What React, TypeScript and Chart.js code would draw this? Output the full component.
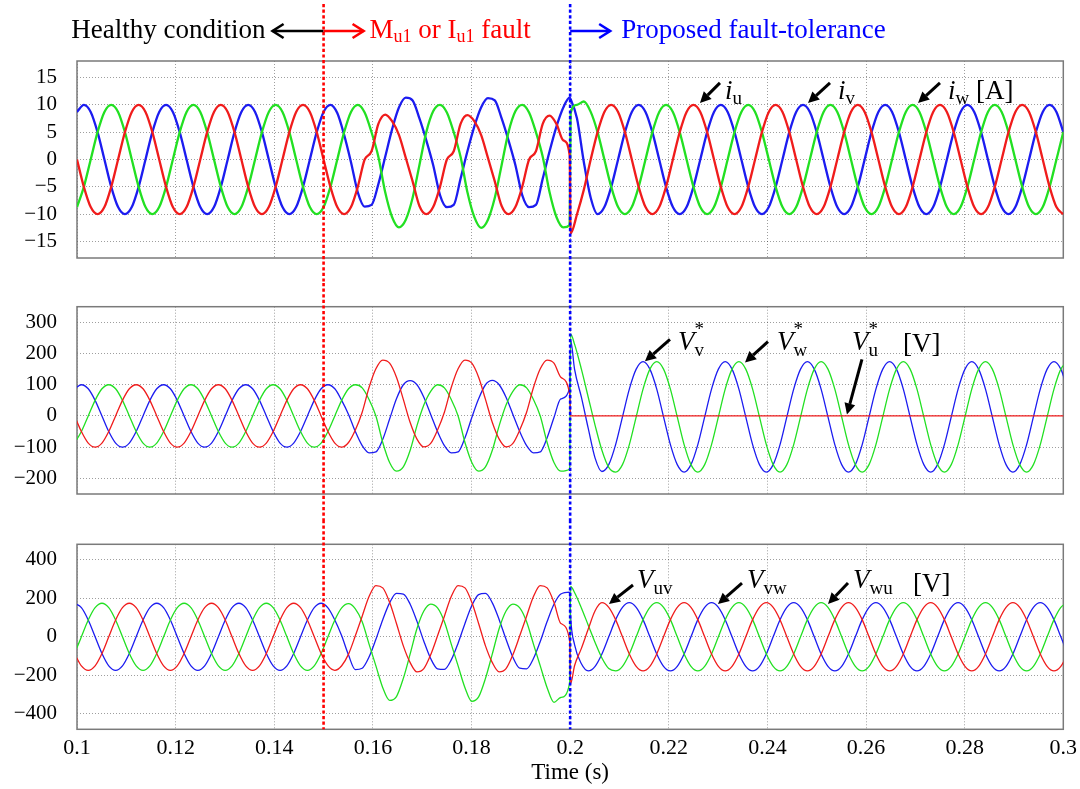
import React, { useEffect, useRef } from "react";
import { Chart, registerables } from "chart.js";

Chart.register(...registerables);

const SERIF = '"Liberation Serif", "Times New Roman", serif';
const RED = "#f01c1c";
const GREEN = "#22e022";
const BLUE = "#1c1cf0";
const GRID = "rgba(0,0,0,0.38)";

// ---------------- time samples (s) ----------------
const TIME_A = [
  0.1, 0.10139, 0.10278, 0.10417, 0.10556, 0.10694, 0.10833, 0.10972, 0.11111, 0.1125, 0.11389, 0.11528,
  0.11667, 0.11806, 0.11944, 0.12083, 0.12222, 0.12361, 0.125, 0.12639, 0.12778, 0.12917, 0.13056, 0.13194,
  0.13333, 0.13472, 0.13611, 0.1375, 0.13889, 0.14028, 0.14167, 0.14306, 0.14444, 0.14583, 0.14722, 0.14861,
  0.15, 0.15139, 0.15278, 0.15417, 0.15556, 0.15694, 0.15833, 0.15972, 0.16111, 0.1625, 0.16389, 0.16528,
  0.16667, 0.16806, 0.16944, 0.17083, 0.17222, 0.17361, 0.175, 0.17639, 0.17778, 0.17917, 0.18056, 0.18194,
  0.18333, 0.18472, 0.18611, 0.1875, 0.18889, 0.19028, 0.19167, 0.19306, 0.19444, 0.19583, 0.19722, 0.19861,
  0.1999, 0.2001,
  0.20139, 0.20278, 0.20417, 0.20556, 0.20694, 0.20833, 0.20972, 0.21111, 0.2125, 0.21389, 0.21528, 0.21667,
  0.21806, 0.21944, 0.22083, 0.22222, 0.22361, 0.225, 0.22639, 0.22778, 0.22917, 0.23056, 0.23194, 0.23333,
  0.23472, 0.23611, 0.2375, 0.23889, 0.24028, 0.24167, 0.24306, 0.24444, 0.24583, 0.24722, 0.24861, 0.25,
  0.25139, 0.25278, 0.25417, 0.25556, 0.25694, 0.25833, 0.25972, 0.26111, 0.2625, 0.26389, 0.26528, 0.26667,
  0.26806, 0.26944, 0.27083, 0.27222, 0.27361, 0.275, 0.27639, 0.27778, 0.27917, 0.28056, 0.28194, 0.28333,
  0.28472, 0.28611, 0.2875, 0.28889, 0.29028, 0.29167, 0.29306, 0.29444, 0.29583, 0.29722, 0.29861, 0.3,
];

const TIME_B = [
  0.0995, 0.10089, 0.10228, 0.10367, 0.10506, 0.10644, 0.10783, 0.10922, 0.11061, 0.112, 0.11339, 0.11478,
  0.11617, 0.11756, 0.11894, 0.12033, 0.12172, 0.12311, 0.1245, 0.12589, 0.12728, 0.12867, 0.13006, 0.13144,
  0.13283, 0.13422, 0.13561, 0.137, 0.13839, 0.13978, 0.14117, 0.14256, 0.14394, 0.14533, 0.14672, 0.14811,
  0.1495, 0.15089, 0.15228, 0.15367, 0.15506, 0.15644, 0.15783, 0.15922, 0.16061, 0.162, 0.16339, 0.16478,
  0.16617, 0.16756, 0.16894, 0.17033, 0.17172, 0.17311, 0.1745, 0.17589, 0.17728, 0.17867, 0.18006, 0.18144,
  0.18283, 0.18422, 0.18561, 0.187, 0.18839, 0.18978, 0.19117, 0.19256, 0.19394, 0.19533, 0.19672, 0.19811,
  0.1999, 0.2001,
  0.20089, 0.20228, 0.20367, 0.20506, 0.20644, 0.20783, 0.20922, 0.21061, 0.212, 0.21339, 0.21478, 0.21617,
  0.21756, 0.21894, 0.22033, 0.22172, 0.22311, 0.2245, 0.22589, 0.22728, 0.22867, 0.23006, 0.23144, 0.23283,
  0.23422, 0.23561, 0.237, 0.23839, 0.23978, 0.24117, 0.24256, 0.24394, 0.24533, 0.24672, 0.24811, 0.2495,
  0.25089, 0.25228, 0.25367, 0.25506, 0.25644, 0.25783, 0.25922, 0.26061, 0.262, 0.26339, 0.26478, 0.26617,
  0.26756, 0.26894, 0.27033, 0.27172, 0.27311, 0.2745, 0.27589, 0.27728, 0.27867, 0.28006, 0.28144, 0.28283,
  0.28422, 0.28561, 0.287, 0.28839, 0.28978, 0.29117, 0.29256, 0.29394, 0.29533, 0.29672, 0.29811, 0.2995, 0.30089,
];

// ---------------- phase currents [A] (TIME_A) ----------------
const I_U = [
  0, -5, -8.7, -10, -8.7, -5, 0, 5, 8.7, 10, 8.7, 5,
  0, -5, -8.7, -10, -8.7, -5, 0, 5, 8.7, 10, 8.7, 5,
  0, -5, -8.7, -10, -8.7, -5, 0, 5, 8.7, 10, 8.7, 5,
  0, -5, -8.7, -10, -8.7, -5, 0, 1.5, 6.5, 8.2, 7, 4.5,
  0.3, -4, -8.5, -10, -8.7, -5, 0, 1.5, 6.5, 8.1, 7, 4.5,
  0.3, -4, -8.5, -10, -8.7, -5, 0, 1.5, 6.5, 8, 6.5, 3.5,
  0.8, -13.5,
  -10, -5.5, 0, 5, 8.7, 10, 8.7, 5, 0, -5, -8.7, -10,
  -8.7, -5, 0, 5, 8.7, 10, 8.7, 5, 0, -5, -8.7, -10,
  -8.7, -5, 0, 5, 8.7, 10, 8.7, 5, 0, -5, -8.7, -10,
  -8.7, -5, 0, 5, 8.7, 10, 8.7, 5, 0, -5, -8.7, -10,
  -8.7, -5, 0, 5, 8.7, 10, 8.7, 5, 0, -5, -8.7, -10,
  -8.7, -5, 0, 5, 8.7, 10, 8.7, 5, 0, -5, -8.7, -10,
];
const I_V = [
  8.7, 10, 8.7, 5, 0, -5, -8.7, -10, -8.7, -5, 0, 5,
  8.7, 10, 8.7, 5, 0, -5, -8.7, -10, -8.7, -5, 0, 5,
  8.7, 10, 8.7, 5, 0, -5, -8.7, -10, -8.7, -5, 0, 5,
  8.7, 10, 8.5, 4.5, -0.5, -6, -8.6, -8.3, -4.5, 0.5, 5.5, 9.5,
  11.3, 10.8, 7.5, 3.5, -1, -6.5, -8.7, -8.3, -3.5, 1.5, 6, 9.5,
  11.2, 10.8, 7.5, 3.5, -1, -6.5, -8.7, -8.3, -3.5, 1.5, 6, 9.5,
  11.3, 11,
  7.5, -0.5, -7, -10, -8.7, -5, 0, 5, 8.7, 10, 8.7, 5,
  0, -5, -8.7, -10, -8.7, -5, 0, 5, 8.7, 10, 8.7, 5,
  0, -5, -8.7, -10, -8.7, -5, 0, 5, 8.7, 10, 8.7, 5,
  0, -5, -8.7, -10, -8.7, -5, 0, 5, 8.7, 10, 8.7, 5,
  0, -5, -8.7, -10, -8.7, -5, 0, 5, 8.7, 10, 8.7, 5,
  0, -5, -8.7, -10, -8.7, -5, 0, 5, 8.7, 10, 8.7, 5,
];
const I_W = [
  -8.7, -5, 0, 5, 8.7, 10, 8.7, 5, 0, -5, -8.7, -10,
  -8.7, -5, 0, 5, 8.7, 10, 8.7, 5, 0, -5, -8.7, -10,
  -8.7, -5, 0, 5, 8.7, 10, 8.7, 5, 0, -5, -8.7, -10,
  -8.7, -5, 0, 5, 8.7, 10, 8.6, 5, 0.5, -6, -10.5, -12.4,
  -11, -7, -1, 5, 8.8, 10, 8.6, 5, 0.5, -6, -10.5, -12.5,
  -11, -7, -1, 5, 8.8, 10, 8.6, 5, 0.5, -6, -10.5, -12.4,
  -12, 8.5,
  10, 10.6, 8.7, 5, 0, -5, -8.7, -10, -8.7, -5, 0, 5,
  8.7, 10, 8.7, 5, 0, -5, -8.7, -10, -8.7, -5, 0, 5,
  8.7, 10, 8.7, 5, 0, -5, -8.7, -10, -8.7, -5, 0, 5,
  8.7, 10, 8.7, 5, 0, -5, -8.7, -10, -8.7, -5, 0, 5,
  8.7, 10, 8.7, 5, 0, -5, -8.7, -10, -8.7, -5, 0, 5,
  8.7, 10, 8.7, 5, 0, -5, -8.7, -10, -8.7, -5, 0, 5,
];

// ---------------- phase voltage references [V] (TIME_B) ----------------
const V_U_REF = [
  0, -50, -87, -100, -87, -50, 0, 50, 87, 100, 87, 50,
  0, -50, -87, -100, -87, -50, 0, 50, 87, 100, 87, 50,
  0, -50, -87, -100, -87, -50, 0, 50, 87, 100, 87, 50,
  0, -50, -87, -100, -85, -45, 12, 91, 151, 179, 169, 124,
  53, -21, -74, -99, -88, -45, 12, 91, 151, 179, 169, 124,
  53, -21, -74, -99, -88, -45, 12, 91, 151, 179, 169, 124,
  70, 0,
  0, 0, 0, 0, 0, 0, 0, 0, 0, 0, 0, 0,
  0, 0, 0, 0, 0, 0, 0, 0, 0, 0, 0, 0,
  0, 0, 0, 0, 0, 0, 0, 0, 0, 0, 0, 0,
  0, 0, 0, 0, 0, 0, 0, 0, 0, 0, 0, 0,
  0, 0, 0, 0, 0, 0, 0, 0, 0, 0, 0, 0,
  0, 0, 0, 0, 0, 0, 0, 0, 0, 0, 0, 0, 0,
];
const V_V_REF = [
  87, 100, 87, 50, 0, -50, -87, -100, -87, -50, 0, 50,
  87, 100, 87, 50, 0, -50, -87, -100, -87, -50, 0, 50,
  87, 100, 87, 50, 0, -50, -87, -100, -87, -50, 0, 50,
  87, 100, 87, 50, 5, -50, -95, -118, -115, -75, -10, 55,
  100, 113, 100, 60, 5, -50, -95, -118, -115, -70, -5, 55,
  100, 114, 100, 60, 5, -50, -95, -118, -115, -70, -5, 55,
  90, 242,
  150, 60, -40, -135, -178, -156, -92, -3, 86, 150, 174, 150,
  86, -3, -92, -156, -180, -156, -92, -3, 86, 150, 174, 150,
  86, -3, -92, -156, -180, -156, -92, -3, 86, 150, 174, 150,
  86, -3, -92, -156, -180, -156, -92, -3, 86, 150, 174, 150,
  86, -3, -92, -156, -180, -156, -92, -3, 86, 150, 174, 150,
  86, -3, -92, -156, -180, -156, -92, -3, 86, 150, 174, 150, 86,
];
const V_W_REF = [
  -87, -50, 0, 50, 87, 100, 87, 50, 0, -50, -87, -100,
  -87, -50, 0, 50, 87, 100, 87, 50, 0, -50, -87, -100,
  -87, -50, 0, 50, 87, 100, 87, 50, 0, -50, -87, -100,
  -87, -50, 0, 50, 87, 100, 90, 53, 0, -85, -149, -177,
  -163, -110, -31, 35, 79, 100, 90, 53, 0, -85, -149, -177,
  -163, -110, -31, 35, 79, 100, 90, 53, 0, -85, -149, -177,
  -170, 262,
  230, 150, 60, -30, -110, -165, -180, -156, -92, -3, 86, 150,
  174, 150, 86, -3, -92, -156, -180, -156, -92, -3, 86, 150,
  174, 150, 86, -3, -92, -156, -180, -156, -92, -3, 86, 150,
  174, 150, 86, -3, -92, -156, -180, -156, -92, -3, 86, 150,
  174, 150, 86, -3, -92, -156, -180, -156, -92, -3, 86, 150,
  174, 150, 86, -3, -92, -156, -180, -156, -92, -3, 86, 150, 174,
];

// ---------------- line voltages [V] (TIME_B) ----------------
const V_UV = [
  -87, -151, -174, -151, -87, 0, 87, 151, 174, 151, 87, 0,
  -87, -151, -174, -151, -87, 0, 87, 151, 174, 151, 87, 0,
  -87, -151, -174, -151, -87, 0, 87, 151, 174, 151, 87, 0,
  -87, -150, -174, -150, -90, 5, 107, 209, 266, 254, 179, 69,
  -47, -134, -182, -165, -93, 5, 107, 209, 266, 254, 179, 69,
  -47, -134, -182, -165, -93, 5, 107, 209, 266, 254, 179, 69,
  -20, -242,
  -150, -60, 40, 135, 177, 153, 89, 0, -89, -153, -177, -153,
  -89, 0, 89, 153, 177, 153, 89, 0, -89, -153, -177, -153,
  -89, 0, 89, 153, 177, 153, 89, 0, -89, -153, -177, -153,
  -89, 0, 89, 153, 177, 153, 89, 0, -89, -153, -177, -153,
  -89, 0, 89, 153, 177, 153, 89, 0, -89, -153, -177, -153,
  -89, 0, 89, 153, 177, 153, 89, 0, -89, -153, -177, -153, -89,
];
const V_VW = [
  174, 151, 87, 0, -87, -151, -174, -151, -87, 0, 87, 151,
  174, 151, 87, 0, -87, -151, -174, -151, -87, 0, 87, 151,
  174, 151, 87, 0, -87, -151, -174, -151, -87, 0, 87, 151,
  174, 150, 87, 5, -95, -170, -163, -105, -13, 89, 176, 225,
  222, 169, 80, -23, -113, -166, -169, -120, -33, 69, 162, 219,
  225, 176, 89, -13, -106, -163, -166, -113, -24, 79, 169, 222,
  232, 100,
  -40, -140, -177, -153, -89, 0, 89, 153, 177, 153, 89, 0,
  -89, -153, -177, -153, -89, 0, 89, 153, 177, 153, 89, 0,
  -89, -153, -177, -153, -89, 0, 89, 153, 177, 153, 89, 0,
  -89, -153, -177, -153, -89, 0, 89, 153, 177, 153, 89, 0,
  -89, -153, -177, -153, -89, 0, 89, 153, 177, 153, 89, 0,
  -89, -153, -177, -153, -89, 0, 89, 153, 177, 153, 89, 0, -89,
];
const V_WU = [
  -87, 0, 87, 151, 174, 151, 87, 0, -87, -151, -174, -151,
  -87, 0, 87, 151, 174, 151, 87, 0, -87, -151, -174, -151,
  -87, 0, 87, 151, 174, 151, 87, 0, -87, -151, -174, -151,
  -87, 0, 87, 150, 172, 145, 78, -38, -151, -264, -330, -310,
  -216, -89, 43, 134, 170, 150, 78, -38, -151, -264, -335, -312,
  -216, -89, 43, 134, 170, 150, 78, -38, -151, -264, -340, -315,
  -240, 262,
  230, 150, 60, -30, -110, -165, -177, -153, -89, 0, 89, 153,
  177, 153, 89, 0, -89, -153, -177, -153, -89, 0, 89, 153,
  177, 153, 89, 0, -89, -153, -177, -153, -89, 0, 89, 153,
  177, 153, 89, 0, -89, -153, -177, -153, -89, 0, 89, 153,
  177, 153, 89, 0, -89, -153, -177, -153, -89, 0, 89, 153,
  177, 153, 89, 0, -89, -153, -177, -153, -89, 0, 89, 153, 177,
];

// ---------------- axes ----------------
const X_TICKS = [0.1, 0.12, 0.14, 0.16, 0.18, 0.2, 0.22, 0.24, 0.26, 0.28, 0.3];
const Y1_TICKS = [-15, -10, -5, 0, 5, 10, 15];
const Y2_TICKS = [-200, -100, 0, 100, 200, 300];
const Y3_TICKS = [-400, -200, 0, 200, 400];
const FAULT_T = 0.15;
const TOLERANCE_T = 0.2;

// ---------------- annotations (data coordinates) ----------------
type Part = { t: string; it?: boolean; sz: number; dy?: number; over?: boolean };
type Label = { x: number; y: number; parts: Part[] };
type Arrow = { x1: number; y1: number; x2: number; y2: number };

const ANN1: { arrows: Arrow[]; labels: Label[] } = {
  arrows: [
    { x1: 0.23038, y1: 14.0, x2: 0.22632, y2: 10.33 },
    { x1: 0.25269, y1: 14.0, x2: 0.24823, y2: 10.33 },
    { x1: 0.27499, y1: 14.0, x2: 0.27053, y2: 10.33 },
  ],
  labels: [
    { x: 0.23139, y: 11.06, parts: [{ t: "i", it: true, sz: 27 }, { t: "u", sz: 19, dy: 5 }] },
    { x: 0.25431, y: 11.06, parts: [{ t: "i", it: true, sz: 27 }, { t: "v", sz: 19, dy: 5 }] },
    { x: 0.27661, y: 11.06, parts: [{ t: "i", it: true, sz: 27 }, { t: "w", sz: 19, dy: 5 }, { t: " [A]", sz: 27 }] },
  ],
};
const ANN2: { arrows: Arrow[]; labels: Label[] } = {
  arrows: [
    { x1: 0.22024, y1: 245, x2: 0.21517, y2: 175 },
    { x1: 0.24011, y1: 238, x2: 0.23545, y2: 171 },
    { x1: 0.25917, y1: 181, x2: 0.25613, y2: 5 },
  ],
  labels: [
    { x: 0.22186, y: 212, parts: [{ t: "V", it: true, sz: 27 }, { t: "v", sz: 19, dy: 6 }, { t: "*", sz: 19, dy: -15, over: true }] },
    { x: 0.24193, y: 212, parts: [{ t: "V", it: true, sz: 27 }, { t: "w", sz: 19, dy: 6 }, { t: "*", sz: 19, dy: -15, over: true }] },
    { x: 0.25714, y: 212, parts: [{ t: "V", it: true, sz: 27 }, { t: "u", sz: 19, dy: 6 }, { t: "*", sz: 19, dy: -15, over: true }] },
    { x: 0.26748, y: 206, parts: [{ t: "[V]", sz: 27 }] },
  ],
};
const ANN3: { arrows: Arrow[]; labels: Label[] } = {
  arrows: [
    { x1: 0.21274, y1: 269, x2: 0.20787, y2: 170 },
    { x1: 0.23484, y1: 279, x2: 0.22998, y2: 170 },
    { x1: 0.25634, y1: 279, x2: 0.25229, y2: 170 },
  ],
  labels: [
    { x: 0.21355, y: 253, parts: [{ t: "V", it: true, sz: 27 }, { t: "uv", sz: 19, dy: 6 }] },
    { x: 0.23586, y: 253, parts: [{ t: "V", it: true, sz: 27 }, { t: "vw", sz: 19, dy: 6 }] },
    { x: 0.25736, y: 253, parts: [{ t: "V", it: true, sz: 27 }, { t: "wu", sz: 19, dy: 6 }] },
    { x: 0.2695, y: 232, parts: [{ t: "[V]", sz: 27 }] },
  ],
};

// ---------------- drawing helpers ----------------
function font(sz: number, it?: boolean) {
  return `${it ? "italic " : ""}${sz}px ${SERIF}`;
}
function drawParts(ctx: CanvasRenderingContext2D, x: number, y: number, parts: Part[], color: string) {
  let cx = x;
  let prevX = x;
  ctx.fillStyle = color;
  ctx.textAlign = "left";
  ctx.textBaseline = "alphabetic";
  for (const p of parts) {
    ctx.font = font(p.sz, p.it);
    const px = p.over ? prevX : cx;
    ctx.fillText(p.t, px, y + (p.dy || 0));
    const w = ctx.measureText(p.t).width;
    if (!p.over) {
      prevX = px;
      cx = px + w;
    }
  }
}
function filledArrow(ctx: CanvasRenderingContext2D, x1: number, y1: number, x2: number, y2: number) {
  const ang = Math.atan2(y2 - y1, x2 - x1);
  const hl = 11;
  const hw = 5.5;
  const bx = x2 - hl * Math.cos(ang);
  const by = y2 - hl * Math.sin(ang);
  ctx.save();
  ctx.strokeStyle = "#000";
  ctx.fillStyle = "#000";
  ctx.lineWidth = 3;
  ctx.beginPath();
  ctx.moveTo(x1, y1);
  ctx.lineTo(bx, by);
  ctx.stroke();
  ctx.beginPath();
  ctx.moveTo(x2, y2);
  ctx.lineTo(bx + hw * Math.sin(ang), by - hw * Math.cos(ang));
  ctx.lineTo(bx - hw * Math.sin(ang), by + hw * Math.cos(ang));
  ctx.closePath();
  ctx.fill();
  ctx.restore();
}
function chevronArrow(ctx: CanvasRenderingContext2D, x1: number, y: number, x2: number, color: string) {
  const dir = Math.sign(x2 - x1);
  ctx.save();
  ctx.strokeStyle = color;
  ctx.lineWidth = 2.6;
  ctx.lineCap = "butt";
  ctx.beginPath();
  ctx.moveTo(x1, y);
  ctx.lineTo(x2, y);
  ctx.stroke();
  ctx.beginPath();
  ctx.moveTo(x2 - dir * 11, y - 7);
  ctx.lineTo(x2, y);
  ctx.lineTo(x2 - dir * 11, y + 7);
  ctx.stroke();
  ctx.restore();
}

const framePlugin = {
  id: "frame",
  beforeDatasetsDraw(chart: any) {
    const { ctx, chartArea: a } = chart;
    ctx.save();
    ctx.strokeStyle = "#7a7a7a";
    ctx.lineWidth = 1.5;
    ctx.strokeRect(a.left, a.top, a.right - a.left, a.bottom - a.top);
    ctx.restore();
  },
};

function markerPlugin(top: number, toArea: boolean) {
  return {
    id: "markers",
    afterDatasetsDraw(chart: any) {
      const { ctx } = chart;
      const xs = chart.scales.x;
      const bottom = toArea ? chart.chartArea.bottom : chart.height;
      const marks = [
        { t: FAULT_T, c: "#ff0000" },
        { t: TOLERANCE_T, c: "#0000ff" },
      ];
      for (const m of marks) {
        const x = xs.getPixelForValue(m.t);
        ctx.save();
        ctx.strokeStyle = m.c;
        ctx.lineWidth = 2.6;
        ctx.setLineDash([3.2, 2.4]);
        ctx.beginPath();
        ctx.moveTo(x, top);
        ctx.lineTo(x, bottom);
        ctx.stroke();
        ctx.restore();
      }
    },
  };
}

function annPlugin(ann: { arrows: Arrow[]; labels: Label[] }) {
  return {
    id: "ann",
    afterDraw(chart: any) {
      const { ctx } = chart;
      const xs = chart.scales.x;
      const ys = chart.scales.y;
      for (const a of ann.arrows) {
        filledArrow(ctx, xs.getPixelForValue(a.x1), ys.getPixelForValue(a.y1), xs.getPixelForValue(a.x2), ys.getPixelForValue(a.y2));
      }
      for (const l of ann.labels) {
        drawParts(ctx, xs.getPixelForValue(l.x), ys.getPixelForValue(l.y), l.parts, "#000");
      }
    },
  };
}

const headerPlugin = {
  id: "header",
  afterDraw(chart: any) {
    const { ctx } = chart;
    const xs = chart.scales.x;
    const xf = xs.getPixelForValue(FAULT_T);
    const xp = xs.getPixelForValue(TOLERANCE_T);
    const ay = 31;
    const by = 38;
    chevronArrow(ctx, xf, ay, xf - 51, "#000");
    ctx.save();
    ctx.font = font(27);
    ctx.fillStyle = "#000";
    ctx.textAlign = "right";
    ctx.textBaseline = "alphabetic";
    ctx.fillText("Healthy condition", xf - 58, by);
    ctx.restore();
    chevronArrow(ctx, xf, ay, xf + 40, "#ff0000");
    drawParts(
      ctx,
      xf + 46,
      by,
      [
        { t: "M", sz: 27 },
        { t: "u1", sz: 18, dy: 4 },
        { t: " or I", sz: 27 },
        { t: "u1", sz: 18, dy: 4 },
        { t: " fault", sz: 27 },
      ],
      "#ff0000"
    );
    chevronArrow(ctx, xp, ay, xp + 40, "#0000ff");
    drawParts(ctx, xp + 51, by, [{ t: "Proposed fault-tolerance", sz: 27 }], "#0000ff");
  },
};

function yLabel(v: number) {
  return v < 0 ? "\u2212" + Math.abs(v) : String(v);
}
function xLabel(v: number) {
  return String(Math.round(v * 100) / 100);
}

type Series = { values: number[]; color: string };
type PanelSpec = {
  time: number[];
  series: Series[];
  lineWidth: number;
  yMin: number;
  yMax: number;
  yTicks: number[];
  padTop: number;
  padBottom: number;
  xHeight: number;
  showX: boolean;
  markerTop: number;
  markerToArea: boolean;
  ann: { arrows: Arrow[]; labels: Label[] };
  header: boolean;
};

const PANELS: PanelSpec[] = [
  {
    time: TIME_A,
    series: [
      { values: I_U, color: RED },
      { values: I_W, color: GREEN },
      { values: I_V, color: BLUE },
    ],
    lineWidth: 2.3,
    yMin: -18,
    yMax: 18,
    yTicks: Y1_TICKS,
    padTop: 61,
    padBottom: 25,
    xHeight: 0,
    showX: false,
    markerTop: 4,
    markerToArea: false,
    ann: ANN1,
    header: true,
  },
  {
    time: TIME_B,
    series: [
      { values: V_U_REF, color: RED },
      { values: V_W_REF, color: GREEN },
      { values: V_V_REF, color: BLUE },
    ],
    lineWidth: 1.3,
    yMin: -250,
    yMax: 350,
    yTicks: Y2_TICKS,
    padTop: 23.7,
    padBottom: 26,
    xHeight: 0,
    showX: false,
    markerTop: 0,
    markerToArea: false,
    ann: ANN2,
    header: false,
  },
  {
    time: TIME_B,
    series: [
      { values: V_UV, color: RED },
      { values: V_WU, color: GREEN },
      { values: V_VW, color: BLUE },
    ],
    lineWidth: 1.3,
    yMin: -480,
    yMax: 480,
    yTicks: Y3_TICKS,
    padTop: 24.3,
    padBottom: 0,
    xHeight: 59.7,
    showX: true,
    markerTop: 0,
    markerToArea: true,
    ann: ANN3,
    header: false,
  },
];

function makeConfig(p: PanelSpec): any {
  const plugins: any[] = [framePlugin, markerPlugin(p.markerTop, p.markerToArea), annPlugin(p.ann)];
  if (p.header) plugins.push(headerPlugin);
  return {
    type: "line",
    data: {
      datasets: p.series.map((s) => ({
        data: p.time.map((t, i) => ({ x: t, y: s.values[i] })),
        borderColor: s.color,
        borderWidth: p.lineWidth,
        pointRadius: 0,
        pointHoverRadius: 0,
        cubicInterpolationMode: "monotone",
        fill: false,
      })),
    },
    options: {
      responsive: false,
      animation: false,
      events: [],
      parsing: false,
      layout: { padding: { top: p.padTop, bottom: p.padBottom, left: 0, right: 16.7 } },
      plugins: { legend: { display: false }, tooltip: { enabled: false }, title: { display: false } },
      scales: {
        x: {
          type: "linear",
          min: 0.1,
          max: 0.3,
          afterBuildTicks: (s: any) => {
            s.ticks = X_TICKS.map((v) => ({ value: v }));
          },
          afterFit: (s: any) => {
            s.height = p.xHeight;
          },
          grid: {
            color: GRID,
            lineWidth: 1,
            drawTicks: p.showX,
            tickLength: 5.5,
            tickColor: "rgba(0,0,0,0)",
          },
          border: { display: false, dash: [1, 2] },
          ticks: {
            display: p.showX,
            padding: 0,
            autoSkip: false,
            maxRotation: 0,
            color: "#000",
            font: { family: SERIF, size: 22 },
            callback: (v: number) => xLabel(v),
          },
          title: {
            display: p.showX,
            text: "Time (s)",
            color: "#000",
            font: { family: SERIF, size: 23 },
            padding: { top: 0, bottom: 2 },
          },
        },
        y: {
          type: "linear",
          min: p.yMin,
          max: p.yMax,
          afterBuildTicks: (s: any) => {
            s.ticks = p.yTicks.map((v) => ({ value: v }));
          },
          afterFit: (s: any) => {
            s.width = 77;
          },
          grid: {
            color: GRID,
            lineWidth: 1,
            drawTicks: true,
            tickLength: 20,
            tickColor: "rgba(0,0,0,0)",
          },
          border: { display: false, dash: [1, 2] },
          ticks: {
            padding: 0,
            color: "#000",
            font: { family: SERIF, size: 21 },
            callback: (v: number) => yLabel(v),
          },
        },
      },
    },
    plugins,
  };
}

export default function App() {
  const r1 = useRef<HTMLCanvasElement>(null);
  const r2 = useRef<HTMLCanvasElement>(null);
  const r3 = useRef<HTMLCanvasElement>(null);

  useEffect(() => {
    document.body.style.margin = "0";
    const refs = [r1, r2, r3];
    const charts = PANELS.map((p, i) => new Chart(refs[i].current as HTMLCanvasElement, makeConfig(p)));
    return () => charts.forEach((c) => c.destroy());
  }, []);

  return (
    <div style={{ position: "relative", width: 1080, height: 789, background: "#fff", overflow: "hidden" }}>
      <canvas ref={r1} width={1080} height={283} style={{ position: "absolute", left: 0, top: 0 }} />
      <canvas ref={r2} width={1080} height={237} style={{ position: "absolute", left: 0, top: 283 }} />
      <canvas ref={r3} width={1080} height={269} style={{ position: "absolute", left: 0, top: 520 }} />
    </div>
  );
}
